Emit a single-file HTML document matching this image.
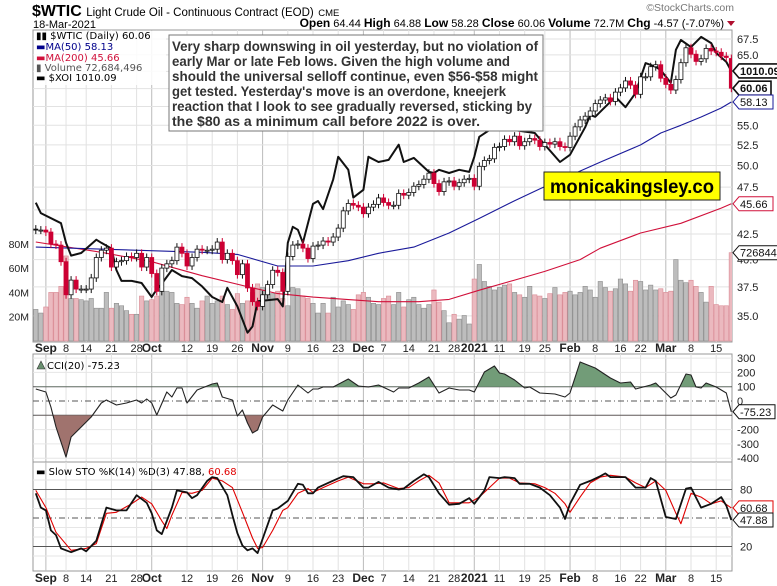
<!DOCTYPE html>
<html><head><meta charset="utf-8"><style>
html,body{margin:0;padding:0;background:#fff;}
svg{display:block;font-family:"Liberation Sans",Arial,sans-serif;}
.sm{font-family:"DejaVu Sans","Liberation Sans",sans-serif;font-size:10px;}
</style></head><body>
<svg id="chart" width="777" height="586" viewBox="0 0 777 586" xmlns="http://www.w3.org/2000/svg">
<defs>
<clipPath id="mainClip"><rect x="33" y="30" width="699" height="312"/></clipPath>
<clipPath id="cciUp"><rect x="33" y="354" width="699" height="33"/></clipPath>
<clipPath id="cciDn"><rect x="33" y="415.3" width="699" height="50"/></clipPath>
</defs>
<g id="grid"></g>
<g id="vol" clip-path="url(#mainClip)"></g>
<g id="mas" clip-path="url(#mainClip)"></g>
<g id="xoi" clip-path="url(#mainClip)"></g>
<g id="candles" clip-path="url(#mainClip)"></g>
<g id="cci"></g>
<g id="sto"></g>
<g id="axes"></g>
<g id="overlay">
  <text x="32" y="16" font-size="16" font-weight="bold">$WTIC <tspan font-size="11.5" font-weight="normal">Light Crude Oil - Continuous Contract (EOD)</tspan> <tspan font-size="9.5" font-weight="normal">CME</tspan></text>
  <text x="33" y="28" font-size="11">18-Mar-2021</text>
  <text x="734" y="11" font-size="10.5" fill="#777" text-anchor="end">©StockCharts.com</text>
  <text x="724" y="27" font-size="11" text-anchor="end"><tspan font-weight="bold" font-size="12">Open</tspan> 64.44 <tspan font-weight="bold" font-size="12">High</tspan> 64.88 <tspan font-weight="bold" font-size="12">Low</tspan> 58.28 <tspan font-weight="bold" font-size="12">Close</tspan> 60.06 <tspan font-weight="bold" font-size="12">Volume</tspan> 72.7M <tspan font-weight="bold" font-size="12">Chg</tspan> -4.57 (-7.07%)</text>
  <polygon points="727,21 735,21 731,26" fill="#b01030"/>
  <g class="sm">
    <rect x="34" y="31" width="132" height="54" fill="#fff" opacity="0.85"/>
    <text x="36" y="39">▮▮ $WTIC (Daily) 60.06</text>
    <text x="36" y="50" fill="#00008b">▬MA(50) 58.13</text>
    <text x="36" y="61" fill="#d0103a">▬MA(200) 45.66</text>
    <text x="36" y="71" fill="#555">▮ Volume 72,684,496</text>
    <text x="36" y="81">▬ $XOI 1010.09</text>
  </g>
  <g>
    <rect x="169" y="35" width="374" height="96" fill="#fff" stroke="#777" stroke-width="1"/>
    <g font-size="14" font-weight="bold" fill="#333">
      <text x="172" y="51" textLength="366" lengthAdjust="spacingAndGlyphs">Very sharp downswing in oil yesterday, but no violation of</text>
      <text x="172" y="66" textLength="338" lengthAdjust="spacingAndGlyphs">early Mar or late Feb lows. Given the high volume and</text>
      <text x="172" y="81" textLength="366" lengthAdjust="spacingAndGlyphs">should the universal selloff continue, even $56-$58 might</text>
      <text x="172" y="96" textLength="334" lengthAdjust="spacingAndGlyphs">get tested. Yesterday's move is an overdone, kneejerk</text>
      <text x="172" y="111" textLength="360" lengthAdjust="spacingAndGlyphs">reaction that I look to see gradually reversed, sticking by</text>
      <text x="172" y="126" textLength="308" lengthAdjust="spacingAndGlyphs">the $80 as a minimum call before 2022 is over.</text>
    </g>
  </g>
  <g>
    <rect x="544" y="172" width="176" height="28" fill="#ffff00" stroke="#222" stroke-width="1"/>
    <text x="632" y="193" font-size="19" font-weight="bold" text-anchor="middle" textLength="164" lengthAdjust="spacingAndGlyphs">monicakingsley.co</text>
  </g>
  <g class="sm">
    <polygon points="37,369 41,361 45,369" fill="#6a9070" stroke="#333" stroke-width="0.6"/>
    <text x="47" y="369">CCI(20) -75.23</text>
  </g>
  <g class="sm">
    <text x="36" y="475">▬ Slow STO %K(14) %D(3) 47.88, <tspan fill="#e00000">60.68</tspan></text>
  </g>
</g>
</svg>
<script>
// ---------- data ----------
const dateTickLabels = ["Sep","8","14","21","28","Oct","12","19","26","Nov","9","16","23","Dec","7","14","21","28","2021","11","19","25","Feb","8","16","22","Mar","8","15"];
const dateTickDays   = [2,6,10,15,20,23,30,35,40,45,50,55,60,65,69,74,79,83,87,92,97,101,106,111,116,120,125,130,135];
const priceTicks = [35,37.5,40,42.5,45,47.5,50,52.5,55,57.5,60,62.5,65,67.5];
const priceTickLabels = ["35.0","37.5","40.0","42.5","","47.5","50.0","52.5","55.0","","","","65.0","67.5"];
const volTicks = [20,40,60,80];
const volTickLabels = ["20M","40M","60M","80M"];
const closes = [42.9,42.9,42.7,41.5,41.4,39.8,36.8,38.1,37.3,37.3,37.3,38.3,40.2,40.9,41.1,39.3,39.8,39.9,40.3,40.2,40.6,39.3,40.2,38.7,37.1,39.2,39.6,39.9,41.2,40.6,39.4,40.2,41.0,40.9,40.9,41.0,41.7,40.0,40.6,39.9,38.6,39.6,37.4,36.2,35.8,36.8,37.7,39.0,38.8,37.1,40.3,41.4,41.5,41.1,40.1,41.3,41.4,41.8,41.7,42.2,43.1,44.9,45.7,45.5,45.3,44.6,45.3,45.6,46.3,45.8,45.5,45.5,46.8,46.6,46.9,47.6,47.8,48.4,49.1,47.9,47.0,48.1,48.2,47.6,48.0,48.4,48.5,47.6,49.9,50.6,50.8,52.2,52.3,53.2,52.9,53.6,52.4,52.9,53.3,53.1,52.3,52.8,52.6,52.9,52.3,52.2,53.6,54.8,55.7,56.2,56.9,57.9,58.4,58.7,58.2,59.5,60.1,61.1,60.5,59.2,61.7,61.7,63.2,63.5,61.5,60.6,59.8,61.3,63.8,66.1,65.1,64.0,64.4,66.0,65.6,65.4,64.8,64.6,60.06];
const opens = [43.0,42.9,42.9,42.7,41.5,41.4,39.8,36.8,38.1,37.3,37.3,37.3,38.3,40.2,40.9,41.1,39.3,39.8,39.9,40.3,40.2,40.6,39.3,40.2,38.7,37.1,39.2,39.6,39.9,41.2,40.6,39.4,40.2,41.0,40.9,40.9,41.0,41.7,40.0,40.6,39.9,38.6,39.6,37.4,36.2,35.8,36.8,37.7,39.0,38.8,37.1,40.3,41.4,41.5,41.1,40.1,41.3,41.4,41.8,41.7,42.2,43.1,44.9,45.7,45.5,45.3,44.6,45.3,45.6,46.3,45.8,45.5,45.5,46.8,46.6,46.9,47.6,47.8,48.4,49.1,47.9,47.0,48.1,48.2,47.6,48.0,48.4,48.5,47.6,49.9,50.6,50.8,52.2,52.3,53.2,52.9,53.6,52.4,52.9,53.3,53.1,52.3,52.8,52.6,52.9,52.3,52.2,53.6,54.8,55.7,56.2,56.9,57.9,58.4,58.7,58.2,59.5,60.1,61.1,60.5,59.2,61.7,61.7,63.2,63.5,61.5,60.6,59.8,61.3,63.8,66.1,65.1,64.0,64.4,66.0,65.6,65.4,64.8,64.44];
const volumes = [26,23,28,40,40,45,70,35,35,34,33,35,27,27,40,27,31,29,25,22,22,37,33,34,37,41,41,40,31,30,36,31,27,33,37,31,33,37,30,26,39,31,33,40,47,44,43,39,41,35,29,44,43,37,35,31,23,31,23,36,28,33,30,26,38,40,36,31,30,35,37,30,40,28,34,36,30,27,30,42,32,25,15,22,18,21,14,51,63,49,45,42,44,46,47,40,38,36,45,38,37,35,39,44,38,40,41,38,40,45,42,36,49,44,41,43,51,47,41,50,49,42,46,42,43,40,41,67,50,48,50,45,40,32,45,30,29,29,72.68];
const ma50Days = [0,33,40,48,55,62,68,75,82,88,95,100,112,120,124,128,132,136,138];
const ma50Vals = [41.2,40.7,40.5,39.4,39.4,39.9,40.6,41.2,42.6,44.1,46.0,47.3,50.4,52.5,54.0,55.0,56.1,57.3,58.13];
const ma200Days = [0,13,23,33,43,48,55,68,76,82,88,95,101,108,112,120,128,136,138];
const ma200Vals = [41.7,40.7,39.8,38.5,37.4,36.9,36.6,36.2,36.2,36.4,37.2,38.1,38.9,40.0,41.1,42.6,43.6,45.2,45.66];
const xoiDays = [0,1,5,6,7,9,12,13,15,16,17,19,21,23,24,25,27,29,31,33,35,37,38,40,42,43,44,48,49,50,51,52,53,55,56,57,59,60,62,63,65,66,68,70,72,73,75,78,79,80,82,84,86,87,88,90,95,99,101,104,106,109,110,111,115,117,119,121,123,124,126,127,128,130,132,134,135,137,138];
const xoiVals = [739,721,704,672,652,656,677,672,663,630,614,614,611,591,602,610,630,621,618,606,591,584,604,578,543,551,585,588,578,672,698,693,672,737,742,728,781,824,799,748,762,824,814,818,848,814,822,795,793,799,793,799,795,824,864,878,878,872,848,814,828,884,910,906,950,927,959,1029,1020,1012,982,1062,1087,1069,1095,1079,1054,1032,1010.09];
const cciDays = [0,2,3,4,6,7,9,11,13,14,16,18,20,21,22,23,24,26,27,28,29,30,32,35,36,37,39,40,41,42,43,44,45,47,49,50,52,54,55,56,57,59,62,64,66,68,71,72,74,76,78,80,82,84,86,87,89,91,92,93,95,97,98,100,103,105,106,108,111,114,116,118,119,122,123,126,127,129,130,131,132,133,135,137,138];
const cciVals = [84,63,-42,-182,-392,-252,-182,-112,-14,7,-28,-14,7,-14,14,-14,-98,63,28,91,91,-14,77,119,126,28,7,-105,-63,-154,-224,-203,-112,-28,-70,7,112,56,84,84,98,98,154,105,98,112,63,91,91,126,168,56,91,77,77,63,203,245,196,189,147,91,98,56,49,28,56,273,231,161,126,133,84,112,126,21,42,189,182,98,91,126,98,56,-75.23];
const cciTicks = [300,200,100,0,-100,-200,-300,-400];
const stoKDays = [0,1,2,3,4,5,6,7,8,9,10,12,14,16,18,20,22,23,24,25,27,28,30,31,32,34,35,36,38,39,40,41,42,43,44,45,47,48,50,52,53,54,55,56,58,61,63,65,66,68,70,72,73,75,77,78,80,82,84,86,87,89,90,92,93,95,96,98,100,102,104,105,106,108,110,112,113,114,117,119,121,122,123,125,127,129,130,132,134,136,137,138];
const stoKVals = [76,61,58,37,32,18,16,14,16,18,15,26,61,58,58,74,66,55,37,33,61,79,77,71,74,89,93,92,74,53,34,21,16,18,13,28,58,60,68,86,85,76,76,82,87,94,93,82,82,88,82,80,81,89,96,93,76,64,65,71,65,79,93,92,93,92,86,86,82,74,61,49,65,85,89,94,97,93,93,82,82,92,89,51,49,81,82,61,65,72,63,47.88];
const stoDDays = [0,2,4,7,10,12,14,16,19,21,23,25,26,27,29,31,33,35,37,39,41,43,44,45,47,49,50,52,54,55,57,60,62,65,67,69,72,74,76,78,80,82,84,86,88,90,92,94,96,99,101,103,105,106,108,110,112,114,117,119,121,123,125,127,128,130,132,134,136,138];
const stoDVals = [79,61,35,16,18,23,55,56,65,72,65,47,39,53,77,76,79,92,89,82,56,29,18,19,37,58,61,76,81,77,82,89,93,86,86,87,81,82,89,95,87,66,66,66,72,82,92,92,87,86,82,76,65,56,72,87,93,95,93,87,82,89,79,55,44,76,72,65,68,60.68];
const stoTicks = [80,20];

// ---------- scales ----------
const L=33, R=732;
function xd(i){return 35.8+i*5.04;}
function yP(p){return 1815.2-421.7*Math.log(p);}
function yX(v){return 71-421.7*Math.log(v/1010);}
function yV(m){return 341-m*1.215;}
function yC(v){return 401-v*0.143;}
function yS(v){return 565.5-v*0.95;}
const NS="http://www.w3.org/2000/svg";
function mk(tag,parent){const e=document.createElementNS(NS,tag);parent.appendChild(e);return e;}
function set(e,a){for(const k in a)e.setAttribute(k,a[k]);return e;}
const G=id=>document.getElementById(id);

// ---------- grid & frames ----------
const grid=G('grid');
[[30,342],[354,462],[462,571]].forEach((p,pi)=>{
  const r=mk('rect',grid);set(r,{x:L,y:p[0],width:R-L,height:p[1]-p[0],fill:'#fff',stroke:'#999','stroke-width':1});
  
  
  dateTickDays.forEach((d,i)=>{
    const isMonth=isNaN(+dateTickLabels[i])||dateTickLabels[i]==='2021';
    const l=mk('line',grid);set(l,{x1:xd(d),x2:xd(d),y1:p[0],y2:p[1],stroke:isMonth?'#bbb':'#e2e2e2','stroke-width':1});
    
    
  });
});
priceTicks.forEach(t=>{
  const l=mk('line',grid);set(l,{x1:L,x2:R,y1:yP(t),y2:yP(t),stroke:'#e2e2e2'});
  
  
});
for(let v=-400;v<=300;v+=100){
  if(v===100||v===-100||v===0)continue;
  const l=mk('line',grid);set(l,{x1:L,x2:R,y1:yC(v),y2:yC(v),stroke:'#e6e6e6'});
  
  
}
for(let v=10;v<=90;v+=10){
  if(v===80||v===20||v===50)continue;
  const l=mk('line',grid);set(l,{x1:L,x2:R,y1:yS(v),y2:yS(v),stroke:'#e6e6e6'});
  
  
}

// ---------- volume ----------
const vg=G('vol');
volumes.forEach((v,i)=>{
  const down=i>0&&closes[i]<closes[i-1];
  const r=mk('rect',vg);
  set(r,{x:xd(i)-2.2,y:yV(v),width:4.4,height:341-yV(v),fill:down?'#ebb9bf':'#bdbdbd',stroke:down?'#d98a94':'#8c8c8c','stroke-width':0.6});
  
  
});

// ---------- MAs & XOI ----------
function poly(days,vals,yf,parent,color,w,name){
  const p=mk('polyline',parent);
  set(p,{points:days.map((d,i)=>xd(d).toFixed(1)+','+yf(vals[i]).toFixed(1)).join(' '),fill:'none',stroke:color,'stroke-width':w,'stroke-linejoin':'round'});
  
  
  return p;
}
poly(ma200Days,ma200Vals,yP,G('mas'),'#d0103a',1.1,'ma200-line');
poly(ma50Days,ma50Vals,yP,G('mas'),'#1a1a9a',1.1,'ma50-line');
poly(xoiDays,xoiVals,yX,G('xoi'),'#111',2,'xoi-line');

// ---------- candles ----------
const cg=G('candles');
closes.forEach((c,i)=>{
  const o=opens[i];
  const down=i>0&&c<closes[i-1];
  const col=down?'#cc0033':'#111';
  const top=yP(Math.max(o,c)),bot=yP(Math.min(o,c));
  const w=mk('line',cg);set(w,{x1:xd(i),x2:xd(i),y1:top-4,y2:bot+4,stroke:col,'stroke-width':1});
  
  
  const b=mk('rect',cg);set(b,{x:xd(i)-2,y:top,width:4,height:Math.max(1,bot-top),fill:c<o?col:'#fff',stroke:col,'stroke-width':0.8});
  
  
});

// ---------- CCI ----------
const cc=G('cci');
[[100,'solid'],[-100,'solid'],[0,'dash']].forEach(a=>{
  const l=mk('line',cc);set(l,{x1:L,x2:R,y1:yC(a[0]),y2:yC(a[0]),stroke:'#555','stroke-width':1});
  if(a[1]==='dash')l.setAttribute('stroke-dasharray','6,3,1,3');
  
  
});
const cpts=cciDays.map((d,i)=>xd(d).toFixed(1)+','+yC(cciVals[i]).toFixed(1)).join(' ');
const fu=mk('polygon',cc);set(fu,{points:xd(cciDays[0])+','+yC(100)+' '+cpts+' '+xd(cciDays[cciDays.length-1])+','+yC(100),fill:'#729c78','clip-path':'url(#cciUp)'});


const fd=mk('polygon',cc);set(fd,{points:xd(cciDays[0])+','+yC(-100)+' '+cpts+' '+xd(cciDays[cciDays.length-1])+','+yC(-100),fill:'#a0736e','clip-path':'url(#cciDn)'});


poly(cciDays,cciVals,yC,cc,'#222',1.1,'cci-line');

// ---------- STO ----------
const sg=G('sto');
[[80,'solid'],[20,'solid'],[50,'dash']].forEach(a=>{
  const l=mk('line',sg);set(l,{x1:L,x2:R,y1:yS(a[0]),y2:yS(a[0]),stroke:'#555','stroke-width':1});
  if(a[1]==='dash')l.setAttribute('stroke-dasharray','6,3,1,3');
  
  
});
poly(stoDDays,stoDVals,yS,sg,'#e00000',1.1,'sto-d-line');
poly(stoKDays,stoKVals,yS,sg,'#111',1.8,'sto-k-line');

// ---------- axes labels ----------
const ag=G('axes');
[352,582].forEach(yy=>{
  dateTickDays.forEach((d,i)=>{
    const lab=dateTickLabels[i];
    const bold=isNaN(+lab)||lab==='2021';
    const t=mk('text',ag);set(t,{x:xd(d),y:yy,'text-anchor':'middle','font-size':bold?12:11,'font-weight':bold?'bold':'normal',fill:'#222'});
    t.textContent=lab;
    
    
  });
});
priceTicks.forEach((p,i)=>{
  if(!priceTickLabels[i])return;
  const t=mk('text',ag);set(t,{x:737,y:yP(p)+4,'font-size':11,fill:'#222'});
  t.textContent=priceTickLabels[i];
  
  
});
volTicks.forEach((v,i)=>{
  const t=mk('text',ag);set(t,{x:29,y:yV(v)+4,'font-size':10.5,'text-anchor':'end',fill:'#222'});
  t.textContent=volTickLabels[i];
  
  
});
cciTicks.forEach(v=>{
  if(v===-100)return;
  const t=mk('text',ag);set(t,{x:737,y:yC(v)+4,'font-size':11,fill:'#222'});
  t.textContent=String(v);
  
  
});
stoTicks.forEach(v=>{
  const t=mk('text',ag);set(t,{x:740,y:yS(v)+4,'font-size':11,fill:'#222'});
  t.textContent=String(v);
  
  
});
function tag(y,label,color,w,bold,name){
  const g=mk('g',ag);
  
  
  const p=mk('path',g);set(p,{d:`M733,${y} L739,${y-7} L${739+w},${y-7} L${739+w},${y+7} L739,${y+7} Z`,fill:'#fff',stroke:color,'stroke-width':bold?1.6:1});
  const t=mk('text',g);set(t,{x:740,y:y+4,'font-size':bold?11:11,'font-weight':bold?'bold':'normal',fill:'#111'});
  t.textContent=label;
}
tag(yX(xoiVals[xoiVals.length-1]),'1010.09','#111',40,true,'xoi-value-tag');
tag(yP(closes[closes.length-1]),'60.06','#111',32,true,'price-value-tag');
tag(yP(ma50Vals[ma50Vals.length-1]),'58.13','#1a1a9a',34,false,'ma50-value-tag');
tag(yP(ma200Vals[ma200Vals.length-1]),'45.66','#d0103a',34,false,'ma200-value-tag');
tag(yV(volumes[volumes.length-1]),'72684496','#111',44,false,'volume-value-tag');
tag(yC(cciVals[cciVals.length-1]),'-75.23','#111',36,false,'cci-value-tag');
tag(yS(stoDVals[stoDVals.length-1]),'60.68','#e00000',34,false,'sto-d-value-tag');
tag(yS(stoKVals[stoKVals.length-1]),'47.88','#111',34,false,'sto-k-value-tag');
</script>
</body></html>
